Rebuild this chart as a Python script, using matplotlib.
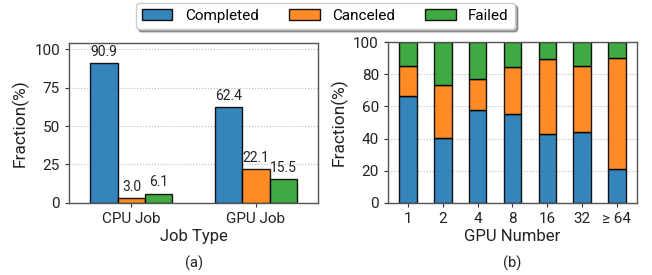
import matplotlib
matplotlib.use("Agg")
import matplotlib.pyplot as plt
import numpy as np

plt.rcParams['font.family'] = ['Roboto', 'DejaVu Sans']

# Panel (a)
job_types = ["CPU Job", "GPU Job"]
completed_a = [90.9, 62.4]
canceled_a = [3.0, 22.1]
failed_a = [6.1, 15.5]

# Panel (b)
gpu_numbers = ["1", "2", "4", "8", "16", "32", "≥ 64"]
completed_b = [66.7, 40.5, 57.6, 55.1, 42.6, 43.9, 20.8]
canceled_b = [18.5, 32.7, 19.3, 29.3, 46.6, 41.1, 69.0]
failed_b = [100 - a - b for a, b in zip(completed_b, canceled_b)]

labels = ["Completed", "Canceled", "Failed"]
colors = ["tab:blue", "tab:orange", "tab:green"]

fig = plt.figure(figsize=(6.52, 2.75), dpi=100)
ax1 = fig.add_axes([0.106, 0.262, 0.382, 0.582])
ax2 = fig.add_axes([0.595, 0.262, 0.382, 0.585])

spine_color = "#555555"
for ax in (ax1, ax2):
    for s in ax.spines.values():
        s.set_color(spine_color)
        s.set_linewidth(1.0)
    ax.tick_params(axis='both', labelsize=11, length=3, color="#333333", labelcolor="#222222")
    ax.yaxis.grid(True, linestyle=':', color='#bbbbbb', linewidth=0.8)
    ax.set_axisbelow(True)

# Panel (a)
x = np.arange(len(job_types))
w = 0.22
handles = []
for i, (vals, lab, c) in enumerate(zip([completed_a, canceled_a, failed_a], labels, colors)):
    bars = ax1.bar(x + (i - 1) * w, vals, w, color=c, alpha=0.9, edgecolor='black',
                   linewidth=1.0, label=lab)
    handles.append(bars)
    for b, v in zip(bars, vals):
        ax1.annotate(f"{v:.1f}", (b.get_x() + b.get_width() / 2, v),
                     xytext=(0, 3), textcoords='offset points', ha='center', va='bottom',
                     fontsize=10, color="#222222")
ax1.set_xticks(x)
ax1.set_xticklabels(job_types)
ax1.set_xlim(-0.5, 1.5)
ax1.set_ylim(0, 104)
ax1.set_yticks([0, 25, 50, 75, 100])
ax1.set_xlabel("Job Type", fontsize=12, color="#222222", labelpad=2)
ax1.set_ylabel("Fraction(%)", fontsize=12.5, color="#222222")

# Panel (b)
xb = np.arange(len(gpu_numbers))
bottom = np.zeros(len(gpu_numbers))
for vals, lab, c in zip([completed_b, canceled_b, failed_b], labels, colors):
    ax2.bar(xb, vals, 0.5, bottom=bottom, color=c, alpha=0.9, edgecolor='black', linewidth=1.0)
    bottom = bottom + np.array(vals)
ax2.set_xticks(xb)
ax2.set_xticklabels(gpu_numbers)
ax2.set_ylim(0, 100)
ax2.set_yticks([0, 20, 40, 60, 80, 100])
ax2.set_xlabel("GPU Number", fontsize=12, color="#222222", labelpad=2)
ax2.set_ylabel("Fraction(%)", fontsize=12.5, color="#222222")

fig.text(0.297, 0.044, "(a)", ha='center', va='center', fontsize=10.5, color="#222222")
fig.text(0.786, 0.044, "(b)", ha='center', va='center', fontsize=10.5, color="#222222")

fig.legend(handles, labels, loc='center', bbox_to_anchor=(0.499, 0.942), ncol=3,
           fontsize=11, frameon=True, shadow=True, fancybox=True, handlelength=2.0,
           handletextpad=0.8, columnspacing=2.0, borderpad=0.4, handleheight=0.65)

fig.savefig("out.png", dpi=100)
